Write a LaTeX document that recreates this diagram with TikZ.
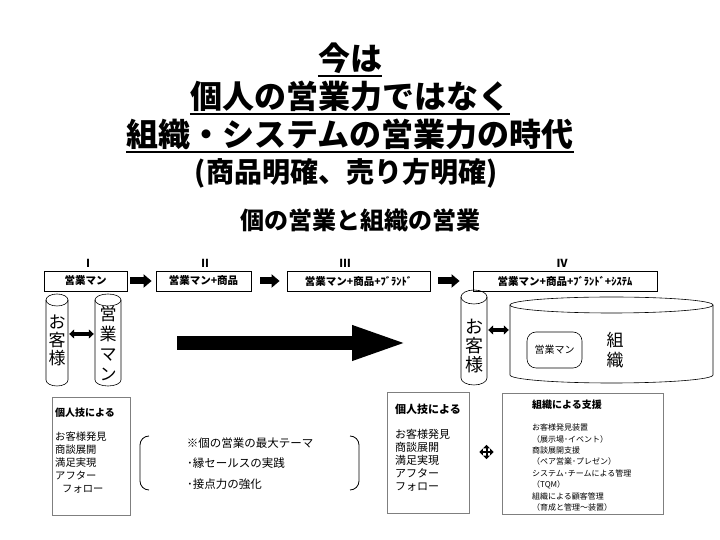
\documentclass[tikz,border=0pt]{standalone}
\usepackage{fontspec}
\setmainfont{Noto Sans CJK JP}
\usetikzlibrary{arrows.meta,calc}
\definecolor{boxgray}{HTML}{7F7F7F}
\newcommand\vcyl[5]{% xl xr ytop ybot ry
  \draw[cylline] (#1,{#3-#5}) -- (#1,{#4+#5}) arc[start angle=180,end angle=360,x radius={(#2-#1)/2},y radius=#5] -- (#2,{#3-#5});
  \draw[cylline] ({(#1+#2)/2},{#3-#5}) ellipse[x radius={(#2-#1)/2},y radius=#5];}
\tikzset{
  title/.style={inner sep=0pt, anchor=base, font=\fontsize{32}{34}\selectfont\bfseries},
  uline/.style={line width=2.2pt},
  roman/.style={inner sep=0pt, font=\fontsize{11}{12}\selectfont\bfseries},
  stagebox/.style={draw, line width=0.8pt, minimum height=20pt, inner sep=0pt, font=\fontsize{10.5}{12}\selectfont\bfseries},
  smallarr/.style={line width=7pt, -{Triangle[length=8pt,width=13pt]}},
  bigarr/.style={line width=14pt, -{Triangle[length=57pt,width=31pt]}},
  cylline/.style={line width=0.6pt},
  cylbody/.style={inner sep=0pt},
  vtext/.style={inner sep=0pt, align=center},
  dblarr/.style={line width=3.5pt, shorten >=1pt, shorten <=1pt, {Triangle[length=5pt,width=9pt]}-{Triangle[length=5pt,width=9pt]}},
  graybox/.style={draw=boxgray, line width=0.9pt, inner sep=0pt},
  listtext/.style={inner sep=0pt, anchor=north west, align=left},
  hdr/.style={inner sep=0pt, anchor=base west, font=\bfseries},
}
\begin{document}
\begin{tikzpicture}[x=1pt,y=1pt]
\useasboundingbox (0,0) rectangle (720,540);
\fill[white] (0,0) rectangle (720,540);

% ---- title ----
\node[title] (t1) at (350,469) {今は};
\draw[uline] ([yshift=-5pt]t1.base west) -- ([yshift=-5pt]t1.base east);
\node[title] (t2) at (350,431) {個人の営業力ではなく};
\draw[uline] ([yshift=-5pt]t2.base west) -- ([yshift=-5pt]t2.base east);
\node[title] (t3) at (350,393) {組織・システムの営業力の時代};
\draw[uline] ([yshift=-5pt]t3.base west) -- ([yshift=-5pt]t3.base east);
\node[title, font=\fontsize{28}{30}\selectfont\bfseries] (t4) at (346,357) {(商品明確、売り方明確)};
\node[title, font=\fontsize{24}{26}\selectfont\bfseries] (sub) at (360,310) {個の営業と組織の営業};

% ---- stages ----
\node[roman] (r1) at (88,277) {Ⅰ};
\node[roman] (r2) at (205,277) {Ⅱ};
\node[roman] (r3) at (345,277) {Ⅲ};
\node[roman] (r4) at (562,277) {Ⅳ};

\node[stagebox, minimum width=83pt] (s1) at (85.5,259) {営業マン};
\node[stagebox, minimum width=95pt] (s2) at (203.5,259) {営業マン+商品};
\node[stagebox, minimum width=143pt] (s3) at (358.5,259) {営業マン+商品+ﾌﾞﾗﾝﾄﾞ};
\node[stagebox, minimum width=184pt] (s4) at (565,259) {営業マン+商品+ﾌﾞﾗﾝﾄﾞ+ｼｽﾃﾑ};

\draw[smallarr] ([xshift=3pt]s1.east) -- ([xshift=-4pt]s2.west);
\draw[smallarr] ([xshift=9pt]s2.east) -- ([xshift=-7pt]s3.west);
\draw[smallarr] ([xshift=8pt]s3.east) -- ([xshift=-13pt]s4.west);

% ---- stage I cylinders ----
\vcyl{46}{68}{246}{154}{6}
\vcyl{95}{121}{246}{154}{6}
\node[cylbody, minimum width=22pt, minimum height=92pt] (cA) at (57,200) {};
\node[cylbody, minimum width=26pt, minimum height=92pt] (cB) at (108,200) {};
\node[vtext, font=\fontsize{17}{18}\selectfont] (tA) at (57,200) {お\\客\\様};
\node[vtext, font=\fontsize{17}{20}\selectfont] (tB) at (108,196) {営\\業\\マ\\ン};
\draw[dblarr] (cA.east |- 0,206) -- (cB.west |- 0,206);

% ---- big arrow ----
\coordinate (bigA) at (177,197);
\coordinate (bigB) at (409,197);
\draw[bigarr] (bigA) -- (bigB);

% ---- stage IV cylinders ----
\vcyl{461}{487}{250}{155}{7}
\vcyl{510}{713}{243}{157}{8}
\node[cylbody, minimum width=26pt, minimum height=95pt] (cC) at (474,202.5) {};
\node[cylbody, minimum width=203pt, minimum height=86pt] (cD) at (611.5,200) {};
\node[vtext, font=\fontsize{18}{19}\selectfont] (tC) at (474,194) {お\\客\\様};
\draw[dblarr] (cC.east |- 0,210) -- (cD.west |- 0,210);
\node[draw, line width=0.6pt, rounded corners=9pt, minimum width=55pt, minimum height=36pt, inner sep=0pt, font=\fontsize{10}{12}\selectfont] (sm) at (554.5,190) {営業マン};
\node[vtext, font=\fontsize{17}{20}\selectfont] (org) at (615,190) {組\\織};

% ---- bottom left ----
\node[graybox, minimum width=78pt, minimum height=118pt] (bL) at (91,84) {};
\node[hdr, font=\fontsize{10}{12}\selectfont\bfseries] (bLh) at (55,123.5) {個人技による};
\node[listtext, font=\fontsize{10.3}{13}\selectfont] (bLt) at (55,108.3) {お客様発見\\商談展開\\満足実現\\アフター\\\hspace*{7pt}フォロー};

\draw[line width=0.8pt] (149,104) to[out=180,in=90] (140,95) -- (140,59) to[out=-90,in=180] (149,50);
\draw[line width=0.8pt] (350,104) to[out=0,in=90] (359,95) -- (359,59) to[out=-90,in=0] (350,50);
\node[inner sep=0pt, font=\fontsize{11.5}{13}\selectfont] (th) at (250,97) {※個の営業の最大テーマ};
\node[inner sep=0pt, anchor=west, font=\fontsize{11.5}{13}\selectfont] (th1) at (187,77) {･縁セールスの実践};
\node[inner sep=0pt, anchor=west, font=\fontsize{11.5}{13}\selectfont] (th2) at (187,56) {･接点力の強化};

% ---- bottom right ----
\node[graybox, minimum width=82pt, minimum height=121pt] (bR) at (428,87.5) {};
\node[hdr, font=\fontsize{11}{13}\selectfont\bfseries] (bRh) at (395,126) {個人技による};
\node[listtext, font=\fontsize{11}{13}\selectfont] (bRt) at (395,110.9) {お客様発見\\商談展開\\満足実現\\アフター\\フォロー};

\node[inner sep=0pt, minimum size=14pt] (plus) at (486.5,88) {};
\draw[line width=2pt, {Triangle[length=3.5pt,width=6.5pt]}-{Triangle[length=3.5pt,width=6.5pt]}] (plus.west) -- (plus.east);
\draw[line width=2pt, {Triangle[length=3.5pt,width=6.5pt]}-{Triangle[length=3.5pt,width=6.5pt]}] (plus.south) -- (plus.north);

\node[graybox, minimum width=161pt, minimum height=121pt] (bO) at (582.5,86.5) {};
\node[hdr, font=\fontsize{10}{12}\selectfont\bfseries] (bOh) at (532,131.5) {組織による支援};
\node[listtext, font=\fontsize{8}{11.4}\selectfont] (bOt) at (532,116.3) {お客様発見装置\\（展示場･イベント）\\商談展開支援\\（ペア営業･プレゼン）\\システム･チームによる管理\\（TQM）\\組織による顧客管理\\（育成と管理～装置）};
\end{tikzpicture}
\end{document}
